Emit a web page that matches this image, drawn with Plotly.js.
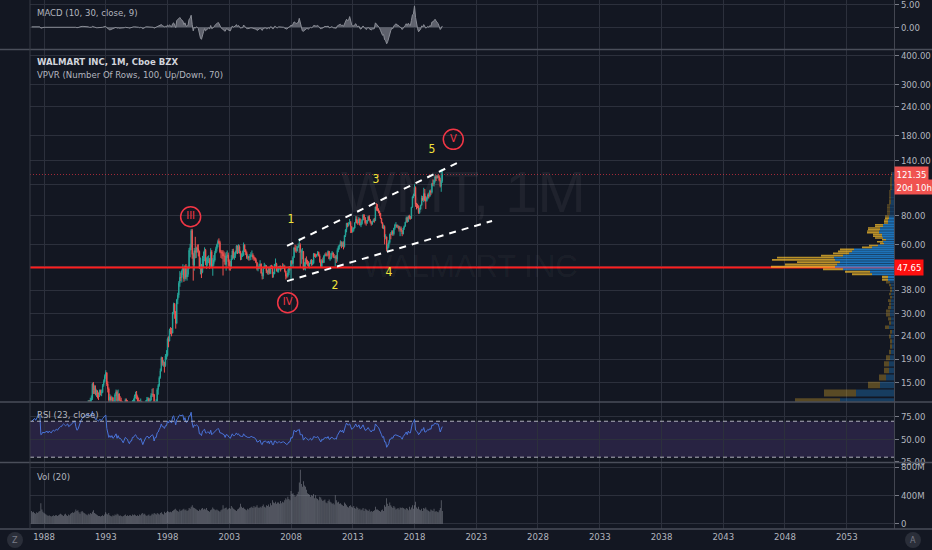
<!DOCTYPE html>
<html><head><meta charset="utf-8">
<script src="https://cdn.plot.ly/plotly-3.0.1.min.js"></script>
<style>html,body{margin:0;padding:0;background:#131722;}#chart{width:932px;height:550px;}</style>
</head><body><div id="chart"></div>
<script>
// ---------- DATA (monthly, starting Jan 1987) ----------
const startYear = 1987;
const firstOpen = 3.0;
const closes = [
3.2,3.4,3.6,3.7,3.6,3.8,4.0,4.1,3.9,3.0,3.2,3.4,
3.5,3.6,3.6,3.7,3.5,3.8,3.7,3.6,3.8,3.9,3.8,3.9,
4.1,4.0,4.2,4.5,4.8,5.0,5.3,5.5,5.4,5.3,5.5,5.6,
5.3,5.5,5.8,6.2,6.6,7.2,7.4,6.8,6.2,6.3,7.0,7.6,
8.3,9.0,9.6,10.4,10.6,11.5,11.8,12.3,12.0,12.6,12.8,14.8,
13.9,14.2,13.4,13.6,13.3,13.2,13.8,13.5,13.6,14.6,15.2,16.0,
16.6,14.8,14.1,12.6,13.0,12.6,12.9,12.2,12.3,13.3,13.7,12.5,
13.4,12.6,12.5,12.4,11.6,11.2,11.8,12.6,12.4,12.1,11.3,10.6,
11.4,11.3,12.4,12.4,13.1,13.4,13.0,12.4,12.4,11.7,12.4,11.2,
10.1,10.7,11.7,12.4,12.6,12.8,12.2,12.6,13.2,13.4,13.3,11.4,
12.3,12.4,14.0,14.6,15.8,16.9,19.3,18.3,18.4,17.8,19.6,19.7,
23.3,22.8,25.4,25.3,24.7,30.4,33.0,30.5,27.3,34.5,36.1,40.7,
43.2,43.1,46.1,47.4,42.6,48.3,43.3,44.5,47.6,56.7,58.4,69.1,
54.3,48.9,56.5,55.4,58.1,57.6,56.1,47.3,48.1,45.4,52.3,53.1,
56.8,50.0,50.5,51.7,51.7,48.8,55.9,48.0,49.5,51.4,55.2,57.6,
60.0,62.0,61.3,55.8,55.6,55.0,53.5,53.5,49.2,53.6,54.0,50.5,
48.6,48.0,52.0,56.3,52.6,53.7,55.8,59.2,55.8,58.9,56.0,53.1,
53.8,53.9,59.7,57.0,55.5,52.8,53.0,52.7,53.2,53.9,54.0,52.8,
52.4,51.6,50.1,47.1,47.2,48.2,49.4,45.0,43.8,47.3,48.6,48.6,
46.1,45.4,47.2,45.0,48.5,48.4,44.6,44.7,49.3,49.3,46.1,46.2,
47.7,48.3,47.0,47.9,47.6,48.1,46.0,43.7,43.7,45.2,47.9,47.5,
50.9,49.6,52.7,58.0,57.5,56.2,58.6,59.2,59.9,55.8,55.9,56.1,
47.1,49.2,52.1,50.4,49.7,48.4,49.9,50.9,49.1,49.7,54.6,53.5,
53.4,54.1,55.6,53.6,50.6,48.1,51.2,50.1,53.5,54.2,54.1,53.9,
56.1,52.0,52.1,55.0,55.2,53.1,52.7,53.2,51.9,56.7,58.9,59.8,
61.4,59.1,61.2,58.9,65.8,69.7,74.4,72.6,73.8,75.0,72.0,68.2,
69.9,70.8,74.8,77.7,74.8,74.5,77.9,73.0,74.0,76.8,81.0,78.7,
74.7,74.7,76.4,79.5,76.8,75.1,73.6,75.5,76.5,76.3,87.6,85.9,
85.0,83.9,82.3,78.1,74.7,70.9,72.0,64.7,64.8,57.2,58.8,61.3,
66.4,66.3,68.5,66.9,70.8,73.0,73.0,71.4,72.1,70.0,70.4,69.1,
66.7,70.9,72.1,75.2,78.6,75.7,80.0,78.1,78.1,87.3,97.1,98.8,
106.6,90.0,89.0,88.5,82.5,85.7,89.2,95.9,93.9,100.3,93.7,93.2,
95.7,99.0,97.5,102.8,101.5,110.5,110.4,114.3,118.7,117.3,119.1,118.8,
114.5,107.7,113.6,121.35];
const highs = [
3.3,3.5,3.7,3.8,3.8,3.9,4.1,4.3,4.2,4.0,3.4,3.5,
3.6,3.7,3.8,3.8,3.8,3.9,3.9,3.8,3.9,4.0,4.0,4.0,
4.2,4.2,4.3,4.6,4.9,5.1,5.4,5.6,5.6,5.5,5.6,5.7,
5.7,5.6,5.9,6.3,6.8,7.3,7.7,7.5,6.9,6.6,7.1,7.8,
8.5,9.3,9.8,10.6,11.0,11.7,12.2,12.6,12.6,12.9,13.2,15.0,
15.1,14.6,14.6,14.0,13.9,13.6,14.0,14.0,14.0,14.8,15.5,16.3,
17.0,16.6,15.2,14.3,13.4,13.2,13.1,13.0,12.6,13.5,14.0,13.9,
14.0,13.5,13.1,12.9,12.5,11.8,12.0,12.8,12.8,12.6,12.2,11.4,
11.7,11.8,12.6,12.8,13.3,13.7,13.8,13.2,12.9,12.6,12.8,12.5,
11.5,11.0,11.8,12.6,13.0,13.0,12.9,12.8,13.5,14.1,14.2,13.4,
12.5,12.7,14.2,14.8,16.0,17.3,19.5,19.4,18.8,18.5,20.0,20.8,
23.6,23.9,25.8,26.2,26.0,30.5,33.5,33.4,30.8,34.8,37.0,41.6,
46.0,45.3,46.8,49.3,48.0,48.8,49.4,46.8,48.6,58.0,60.5,70.2,
70.3,55.3,58.0,64.9,58.8,60.1,60.2,56.5,52.7,49.4,53.6,56.0,
58.4,57.5,52.8,53.4,53.9,52.5,57.9,56.8,52.4,54.0,56.4,58.8,
60.6,63.1,63.9,62.4,56.9,56.7,56.7,56.0,55.0,55.7,56.6,55.4,
51.7,51.0,54.0,57.4,57.6,55.5,56.5,59.8,59.5,60.2,59.6,56.4,
55.0,56.5,61.3,60.2,57.3,56.1,54.5,53.6,54.6,55.6,56.6,55.0,
53.8,52.9,52.3,50.2,48.6,49.6,51.3,49.7,45.4,48.0,50.0,49.2,
48.9,46.4,47.6,47.5,48.7,49.0,48.5,45.7,49.4,52.2,50.0,47.5,
48.4,48.5,48.6,48.4,49.8,49.3,48.8,46.2,45.0,46.9,48.1,48.4,
51.4,51.4,53.5,58.7,59.9,59.5,59.2,60.7,63.8,60.8,57.2,58.0,
56.2,50.3,52.5,53.3,51.5,50.8,50.0,51.6,51.9,51.5,55.2,55.0,
54.8,54.6,56.3,55.9,54.4,51.7,51.9,52.7,54.1,55.0,55.6,55.0,
56.6,56.3,53.0,55.3,56.3,55.5,54.6,53.9,54.1,57.8,59.4,60.0,
62.6,62.0,61.9,62.0,65.9,70.0,74.6,74.7,75.2,77.6,76.0,72.1,
71.3,71.4,75.0,79.9,79.7,76.8,79.3,77.8,75.5,77.7,81.4,81.2,
79.0,76.8,76.8,80.0,80.7,77.6,76.0,76.3,77.8,78.5,88.0,90.9,
90.1,86.4,84.3,82.5,78.2,75.2,73.4,72.8,66.6,65.1,60.6,62.7,
67.1,68.0,69.3,69.4,71.0,74.0,75.2,73.5,73.2,72.5,72.0,72.0,
69.4,71.1,72.7,75.5,79.6,79.3,80.3,81.0,80.0,87.7,97.3,100.1,
109.98,107.6,91.3,90.5,89.0,86.9,89.5,98.2,97.8,106.2,104.9,97.7,
96.9,100.3,101.2,104.0,104.4,111.6,115.5,115.2,120.2,120.6,120.5,121.5,
120.5,117.5,128.1,126.5];
const lows = [
2.9,3.1,3.3,3.5,3.5,3.5,3.7,3.9,3.8,2.7,2.9,3.1,
3.3,3.4,3.5,3.5,3.4,3.5,3.6,3.5,3.5,3.7,3.7,3.7,
3.8,3.9,3.9,4.1,4.4,4.7,4.9,5.2,5.2,5.0,5.2,5.3,
5.0,5.1,5.4,5.7,6.1,6.5,7.0,6.4,5.9,5.8,6.2,6.9,
7.3,8.1,8.8,9.4,10.1,10.5,11.2,11.5,11.6,11.8,12.2,12.6,
13.4,13.4,13.2,13.0,12.8,12.6,13.0,13.2,13.1,13.5,14.4,15.0,
15.6,14.5,13.6,12.3,12.3,12.3,12.4,12.0,11.8,12.1,13.1,12.3,
12.3,12.5,12.3,12.0,11.4,10.9,11.0,11.6,12.0,11.8,11.1,10.4,
10.4,10.8,11.2,11.9,12.2,12.8,12.7,12.2,12.1,11.5,11.5,11.0,
9.7,10.0,10.6,11.4,12.1,12.2,11.6,11.8,12.5,13.0,13.0,11.3,
11.2,11.7,12.2,13.3,14.4,15.6,16.8,17.8,17.6,16.6,17.6,18.9,
19.5,21.4,22.7,24.4,23.9,24.6,29.8,28.5,25.8,27.0,33.0,35.2,
39.3,41.6,41.0,44.2,41.3,41.7,42.4,41.8,43.4,46.9,52.8,56.8,
52.1,41.8,46.2,52.3,52.5,55.4,53.3,47.1,44.5,42.9,45.0,47.8,
50.8,48.8,47.0,48.5,49.8,47.0,47.8,47.3,43.9,48.5,50.6,55.1,
56.0,58.4,60.5,55.0,52.5,52.0,44.0,50.5,48.8,46.2,52.5,48.2,
46.3,46.2,47.1,51.5,52.2,51.5,52.5,54.8,54.6,55.0,54.8,51.3,
51.5,53.0,53.6,55.7,54.0,52.0,51.6,51.1,51.2,51.4,53.0,51.6,
51.0,51.0,49.8,46.3,45.9,46.9,48.1,44.9,42.3,42.5,47.2,47.5,
45.1,44.5,44.3,44.5,44.6,47.0,43.0,43.1,44.6,48.1,45.8,45.4,
45.3,46.7,45.8,46.7,47.1,47.0,45.4,42.3,42.8,43.2,44.2,46.3,
42.1,49.1,47.8,52.6,55.8,55.2,56.3,58.0,55.2,47.5,49.5,51.8,
46.4,46.7,46.3,49.2,48.5,47.8,47.3,49.4,48.5,48.8,49.6,53.0,
52.5,53.0,54.0,53.3,50.0,47.8,47.8,49.8,49.9,53.2,53.8,53.2,
53.8,51.8,51.0,51.8,54.0,52.5,52.3,48.3,49.9,50.6,55.6,57.1,
58.9,57.9,58.7,57.2,58.3,64.8,67.9,71.4,72.0,73.6,67.4,67.4,
67.8,68.5,70.6,74.6,74.1,73.1,74.5,72.7,71.5,73.4,76.5,77.0,
73.5,72.6,73.8,75.9,76.4,74.3,72.6,73.4,75.7,74.8,76.0,84.3,
83.9,82.2,80.0,77.7,74.2,70.6,70.1,60.2,63.3,56.3,56.3,58.0,
60.5,63.3,66.0,65.5,65.8,69.7,72.2,71.0,70.6,68.4,65.3,68.1,
65.3,66.9,69.6,71.9,75.0,74.8,75.6,77.3,77.1,77.7,86.9,95.7,
97.6,87.7,85.5,86.5,81.8,81.8,85.2,88.8,92.9,91.9,92.9,85.8,
92.4,94.5,95.5,97.0,98.6,100.2,108.0,107.6,112.0,113.6,116.5,117.1,
113.3,106.5,102.0,111.6];
const volumesM = [
180,160,170,150,140,160,150,170,180,290,200,170,
150,140,130,120,110,120,110,100,110,120,110,120,
120,110,120,130,140,130,120,110,130,140,120,110,
130,120,140,150,160,150,170,200,180,190,160,140,
170,180,160,150,140,130,120,140,130,150,140,170,
190,150,140,130,120,110,110,100,110,120,110,130,
160,140,130,150,120,110,100,120,110,130,120,140,
130,110,120,110,100,110,120,130,110,120,110,120,
120,110,130,120,130,120,110,120,110,130,120,140,
150,130,140,120,110,120,130,110,120,140,130,150,
140,130,150,140,130,150,160,140,130,170,150,160,
180,170,160,170,160,180,190,200,210,190,180,170,
200,180,190,200,210,190,200,180,190,220,210,240,
260,230,220,210,200,190,180,200,190,210,220,200,
210,200,220,190,180,170,190,200,230,210,200,190,
200,190,180,170,190,200,260,210,220,230,200,210,
220,210,250,230,210,200,190,180,200,210,230,280,
240,220,230,210,200,190,210,200,220,230,240,220,
250,230,240,260,230,220,240,230,250,270,240,230,
260,250,270,240,290,260,330,300,290,310,280,300,
300,280,320,290,310,300,330,360,340,380,350,330,
460,420,430,400,380,390,420,450,580,760,560,520,
600,540,520,480,430,420,410,380,400,390,420,360,
400,360,350,330,380,370,340,320,330,340,300,290,
320,340,310,300,280,290,270,400,330,300,310,280,
290,270,260,250,300,280,260,240,230,250,260,240,
230,250,220,210,240,220,200,210,190,200,220,180,
210,200,190,180,200,170,180,170,180,190,240,200,
200,190,180,170,190,200,180,260,240,360,280,250,
300,260,240,220,250,230,200,210,220,200,230,220,
230,220,210,200,220,210,190,240,200,230,260,210,
260,310,230,210,240,200,190,210,180,220,210,230,
200,190,180,170,200,190,180,210,170,180,170,160,
190,220,330,180];
const rsiValues = [
70,71,72,73,71,73,75,78,76,55,56,58,
57,58,58,59,57,59,58,57,59,60,59,60,
61,60,62,63,64,64,66,67,66,65,66,67,
64,65,66,67,68,70,70,64,60,61,65,68,
71,73,74,76,75,77,77,78,76,77,76,81,
76,75,72,72,71,70,72,71,71,73,74,76,
77,62,58,52,54,52,54,51,52,55,56,51,
54,51,51,50,47,46,49,52,51,50,47,45,
48,48,52,52,54,55,53,51,51,49,51,47,
44,47,50,52,53,53,51,52,54,55,54,48,
52,52,57,58,61,63,67,64,64,62,65,65,
70,68,71,70,68,75,76,71,66,72,73,76,
77,76,77,77,71,74,69,69,71,76,76,80,
68,63,66,65,66,65,64,56,56,54,59,60,
61,57,57,58,58,56,60,55,56,57,59,60,
61,62,61,57,57,56,55,55,52,55,55,53,
52,51,54,56,54,54,55,57,55,56,54,53,
53,53,56,54,53,52,52,52,52,53,53,52,
52,51,50,47,47,48,49,45,44,47,48,48,
47,46,48,45,48,48,44,44,48,48,46,46,
47,47,46,47,47,47,46,44,44,45,47,47,
52,51,54,60,59,58,60,60,61,55,55,55,
49,50,52,51,50,49,50,51,49,50,53,52,
52,52,53,51,49,47,50,49,51,52,52,51,
53,50,50,52,52,51,50,51,50,54,56,57,
60,58,60,57,62,65,68,66,66,67,64,61,
62,63,65,67,64,64,66,62,62,64,66,63,
60,60,61,63,61,59,58,60,60,60,67,65,
64,63,61,58,55,52,53,47,47,41,43,45,
50,50,52,51,54,55,55,54,54,53,53,52,
50,53,54,56,58,55,59,57,57,63,68,69,
72,60,59,58,55,56,58,61,60,63,58,58,
59,61,60,62,61,66,65,67,68,67,67,67,
63,58,61,64];
const macdValues = [
0.1,0.1,0.1,0.1,0.1,0.1,0.1,0.2,0.1,-0.2,-0.1,0.0,
0,0,0,0,0,0,0,0,0,0,0,0,
0,0,0,0.1,0.1,0.1,0.1,0.1,0,0,0,0,
0,0,0.1,0.1,0.1,0.1,0.1,0,-0.1,-0.1,0,0.1,
0.2,0.2,0.2,0.2,0.1,0.1,0.1,0.1,0,0,0,0.2,
0.1,0,-0.1,-0.1,-0.1,-0.1,0,0,0,0,0.1,0.2,
0.2,-0.1,-0.3,-0.6,-0.6,-0.5,-0.4,-0.4,-0.3,-0.1,0,-0.2,
-0.1,-0.2,-0.2,-0.1,-0.2,-0.2,-0.1,0,0,0,-0.1,-0.2,
-0.1,0,0.1,0.1,0.1,0.1,0,0,0,-0.1,0,-0.1,
-0.3,-0.2,0,0.1,0.1,0.1,0,0,0.1,0.1,0,-0.2,
-0.1,0,0.2,0.3,0.4,0.4,0.6,0.4,0.3,0.1,0.2,0.1,
0.5,0.3,0.5,0.3,0.1,0.8,1.0,0.5,-0.1,1.5,1.8,2.0,
2.2,1.8,1.6,1.4,0.6,1.0,0.3,0.2,0.5,1.8,2.0,2.7,
0.6,-0.8,0,-0.2,0.1,0,-0.3,-1.8,-2.4,-2.7,-1.5,-1.0,
-0.3,-0.8,-0.6,-0.3,-0.1,-0.4,0.4,-0.3,-0.2,0,0.4,0.7,
1.0,1.1,0.9,0.1,-0.1,-0.3,-0.5,-0.5,-0.9,-0.4,-0.3,-0.6,
-0.8,-0.8,-0.3,0.3,0,0.1,0.3,0.6,0.2,0.4,0.1,-0.2,
-0.1,-0.1,0.5,0.2,0,-0.3,-0.3,-0.3,-0.2,-0.1,-0.1,-0.2,
-0.3,-0.3,-0.4,-0.7,-0.6,-0.4,-0.2,-0.6,-0.7,-0.3,-0.1,-0.1,
-0.3,-0.3,-0.1,-0.3,0.1,0.1,-0.3,-0.3,0.2,0.2,-0.1,-0.1,
0.1,0.1,0,0,0,0,-0.2,-0.4,-0.4,-0.2,0.1,0.1,
0.5,0.3,0.6,1.2,1.1,0.8,1.0,1.0,2.0,0.8,-0.4,-0.8,
-0.9,-0.7,-0.3,-0.3,-0.3,-0.4,-0.2,0,-0.1,0,0.4,0.3,
0.3,0.3,0.4,0.2,-0.1,-0.4,-0.1,-0.2,0.1,0.2,0.2,0.1,
0.3,-0.1,-0.1,0.1,0.1,-0.1,-0.1,-0.1,-0.2,0.3,0.5,0.6,
0.7,0.4,0.5,0.2,0.8,1.3,1.8,1.5,1.6,2.4,1.2,0.5,
0.3,0.3,0.6,0.8,0.3,0.1,0.3,-0.3,-0.4,-0.1,0.3,0,
-0.4,-0.5,-0.3,0,-0.3,-0.5,-0.6,-0.4,-0.3,-0.3,1.0,0.7,
0.5,0.2,-0.1,-0.7,-1.2,-1.8,-1.6,-2.8,-3.0,-3.7,-3.2,-2.3,
-1.0,-0.7,-0.2,-0.3,0.3,0.7,0.8,0.5,0.5,0.2,0.1,-0.1,
-0.5,0,0.1,0.4,0.8,0.4,0.9,0.5,0.4,1.5,2.8,3.0,
4.8,2.2,0.6,-0.3,-1.0,-0.8,-0.4,0.3,0.1,0.6,0,-0.2,
0,0.2,0,0.4,0.2,1.2,1.2,1.5,1.8,1.4,1.2,0.8,
0.2,-0.5,-0.2,0.3];
// Volume profile (VPVR): 100 price rows
const vpStart = 11.9, vpStep = 1.15;
const vpUp = [54,38,14,8,5,5,4,3,2,2, 3,2,5,3,3,4,4,3,3,3, 2,3,2,2,3,4,6,6,22,24,
 51,59,57,54,59,60,51,45,42,40, 22,16,10,11,8,11,12,12,15,15, 14,14,11,11,6,6,6,5,5,5,
 4,4,4,4,4,4,4,4,3,3, 3,3,3,3,3,3,3,3,3,3, 2,2,2,2,2,2,2,2,2,2, 2,2,2,2,2,2,2,2,2,2];
const vpDown = [45,32,12,7,5,5,4,2,2,2, 2,2,4,2,3,4,4,3,2,3, 2,2,2,2,2,4,6,6,20,25,
 20,64,52,43,63,57,22,16,14,14, 10,9,4,6,4,8,9,9,12,12, 12,12,8,8,4,4,4,4,4,4,
 3,3,3,3,3,3,3,3,2,2, 2,2,2,2,2,2,2,2,2,2, 2,2,2,2,2,2,2,2,2,2, 2,2,2,1,1,1,1,1,1,1];
const vaLow = 42, vaHigh = 80;
// Axis ticks
const yearTicks = [1988,1993,1998,2003,2008,2013,2018,2023,2028,2033,2038,2043,2048,2053];
const priceTicks = [15,19,24,30,38,48,60,80,110,140,180,240,300,400];
const hiddenPriceTicks = [48,110];
// Drawings
const levelSupport = 47.65, levelLast = 121.35;
const upperChannelDates = ['2007-09-06','2021-06-10'], upperChannelPrices = [59.2,136.2];
const lowerChannelDates = ['2007-09-06','2024-04-12'], lowerChannelPrices = [41.6,76.1];
const waveText = ['1','2','3','4','5'];
const waveDates = ['2008-01-01','2011-07-22','2014-11-17','2015-12-06','2019-06-03'];
const wavePrices = [76.7,39.7,114.8,45.1,155.1];
const degText = ['III','IV','V'];
const degDates = ['1999-11-16','2007-09-25','2021-02-21'];
const degPrices = [79.4,33.5,172.7];

// ---------- BUILD ----------
const dates = closes.map((_, i) => {
  const d = new Date(Date.UTC(startYear, i, 1));
  return d.toISOString().slice(0, 10);
});
const opens = closes.map((c, i) => i === 0 ? firstOpen : closes[i - 1]);
const xStart = '1986-11-13', xEnd = '2056-10-29';
const H = 529; const py = p => (H - p) / H;
const FONT = '"Liberation Sans Narrow","DejaVu Sans Condensed","Liberation Sans",sans-serif';
const TXT = '#b2b5be', GRID = '#2c303c';

function vpPolys(which, inVA) {
  const xs = [], ys = [];
  vpUp.forEach((u, i) => {
    const lo = vpStart + i * vpStep, hi = lo + vpStep * 0.82, mid = lo + vpStep / 2;
    const va = mid >= vaLow && mid <= vaHigh;
    if (va !== inVA) return;
    const a = which === 'up' ? 0 : u, b = which === 'up' ? u : u + vpDown[i];
    xs.push(a, b, b, a, a, null); ys.push(lo, lo, hi, hi, lo, null);
  });
  return {xs, ys};
}
const vpTraces = [['up', true, 'rgba(33,150,243,0.72)'], ['down', true, 'rgba(251,192,45,0.72)'],
                  ['up', false, 'rgba(33,150,243,0.3)'], ['down', false, 'rgba(251,192,45,0.3)']]
  .map(([w, va, col]) => { const p = vpPolys(w, va);
    return {type: 'scatter', mode: 'lines', x: p.xs, y: p.ys, xaxis: 'x2', yaxis: 'y2',
      fill: 'toself', fillcolor: col, line: {width: 0, color: col}, hoverinfo: 'skip'}; });

const traces = [
  {type: 'scatter', mode: 'lines', x: dates, y: macdValues, xaxis: 'x', yaxis: 'y',
   fill: 'tozeroy', fillcolor: 'rgba(120,123,134,0.75)', line: {color: '#8a8d96', width: 1}},
  ...vpTraces,
  {type: 'candlestick', x: dates, open: opens, high: highs, low: lows, close: closes,
   xaxis: 'x', yaxis: 'y2', whiskerwidth: 0,
   increasing: {line: {color: '#26a69a', width: 1}, fillcolor: '#26a69a'},
   decreasing: {line: {color: '#ef5350', width: 1}, fillcolor: '#ef5350'}},
  {type: 'scatter', mode: 'lines', x: [xStart, xEnd], y: [levelSupport, levelSupport], xaxis: 'x', yaxis: 'y2',
   line: {color: '#ff1e1e', width: 2}},
  {type: 'scatter', mode: 'lines', x: [xStart, xEnd], y: [levelLast, levelLast], xaxis: 'x', yaxis: 'y2',
   line: {color: 'rgba(242,54,69,0.65)', width: 1, dash: '1px,2px'}},
  {type: 'scatter', mode: 'lines', x: upperChannelDates, y: upperChannelPrices, xaxis: 'x', yaxis: 'y2',
   line: {color: '#ffffff', width: 2, dash: '7px,6px'}},
  {type: 'scatter', mode: 'lines', x: lowerChannelDates, y: lowerChannelPrices, xaxis: 'x', yaxis: 'y2',
   line: {color: '#ffffff', width: 2, dash: '7px,6px'}},
  {type: 'scatter', mode: 'text', x: waveDates, y: wavePrices, text: waveText, xaxis: 'x', yaxis: 'y2',
   textposition: 'middle center', textfont: {color: '#f2e33a', size: 12, family: FONT}},
  {type: 'scatter', mode: 'markers+text', x: degDates, y: degPrices, text: degText, xaxis: 'x', yaxis: 'y2',
   textposition: 'middle center', textfont: {color: '#f23645', size: 11, family: FONT},
   marker: {symbol: 'circle-open', size: 20, color: '#f23645', line: {width: 1.5, color: '#f23645'}}},
  {type: 'scatter', mode: 'lines', x: dates, y: rsiValues, xaxis: 'x', yaxis: 'y3',
   line: {color: '#4a74d8', width: 1}},
  {type: 'bar', x: dates, y: volumesM, xaxis: 'x', yaxis: 'y4',
   marker: {color: 'rgba(178,181,190,0.6)', line: {width: 0}}}
];

const axY = (extra) => Object.assign({side: 'right', anchor: 'x', showgrid: true, gridcolor: GRID,
  zeroline: false, ticks: 'outside', ticklen: 4, tickcolor: '#787b86', showline: true,
  linecolor: '#434651', tickfont: {size: 9.5, color: TXT, family: FONT}, fixedrange: true,
  ticklabeloverflow: 'allow'}, extra);

const sep = p => ({type: 'line', xref: 'paper', yref: 'paper', x0: -30/864, x1: 1 + 38/864, y0: py(p), y1: py(p),
  line: {color: '#4a4e5a', width: 1.5}, layer: 'above'});

const layout = {
  width: 932, height: 550, margin: {l: 30, r: 38, t: 0, b: 21},
  paper_bgcolor: '#131722', plot_bgcolor: '#131722', showlegend: false, bargap: 0.3,
  font: {family: FONT, color: TXT, size: 9.5},
  xaxis: {type: 'date', range: [xStart, xEnd], anchor: 'y4', showgrid: true, gridcolor: GRID,
    tickvals: yearTicks.map(y => y + '-01-01'), ticktext: yearTicks.map(String), ticks: '',
    tickfont: {size: 9.5, color: TXT, family: FONT}, zeroline: false, rangeslider: {visible: false},
    fixedrange: true},
  xaxis2: {overlaying: 'x', anchor: 'y2', range: [864, 0], visible: false, fixedrange: true},
  yaxis: axY({domain: [py(49.5), 1], range: [-4.98, 6.12], tickvals: [0, 5], ticktext: ['0.00', '5.00']}),
  yaxis2: axY({domain: [py(402), py(49.5)], type: 'log', range: [1.0919, 2.6291], tickvals: priceTicks,
    ticktext: priceTicks.map(v => hiddenPriceTicks.includes(v) ? '' : v.toFixed(2))}),
  yaxis3: axY({domain: [py(462.5), py(402)], range: [24.1, 91.4], tickvals: [25, 50, 75],
    ticktext: ['25.00', '50.00', '75.00']}),
  yaxis4: axY({domain: [0, py(462.5)], range: [-74.8, 863.5], tickvals: [0, 400, 800],
    ticktext: ['0', '400M', '800M']}),
  shapes: [
    {type: 'rect', xref: 'paper', yref: 'y3', x0: 0, x1: 1, y0: 30, y1: 70,
     fillcolor: 'rgba(126,87,194,0.2)', line: {width: 0}, layer: 'below'},
    {type: 'line', xref: 'paper', yref: 'y3', x0: 0, x1: 1, y0: 70, y1: 70,
     line: {color: 'rgba(200,202,210,0.85)', width: 1, dash: '4px,3px'}},
    {type: 'line', xref: 'paper', yref: 'y3', x0: 0, x1: 1, y0: 30, y1: 30,
     line: {color: 'rgba(200,202,210,0.85)', width: 1, dash: '4px,3px'}},
    sep(49.5), sep(402), sep(462.5), sep(529),
    {type: 'line', xref: 'paper', yref: 'paper', x0: 0, x1: 0, y0: 0, y1: 1,
     line: {color: '#363a45', width: 1}},
    {type: 'circle', xref: 'paper', yref: 'paper', x0: (7-30)/864, x1: (23-30)/864, y0: py(548), y1: py(532),
     fillcolor: '#2a2e39', line: {width: 0}},
    {type: 'circle', xref: 'paper', yref: 'paper', x0: (905-30)/864, x1: (921-30)/864, y0: py(548), y1: py(532),
     fillcolor: '#2a2e39', line: {width: 0}}
  ],
  annotations: [
    {text: 'MACD (10, 30, close, 9)', xref: 'paper', yref: 'paper', x: 0, y: py(12.5), xanchor: 'left',
     yanchor: 'middle', xshift: 5, showarrow: false, font: {size: 9.5, color: TXT}},
    {text: '<b>WALMART INC, 1M, Cboe BZX</b>', xref: 'paper', yref: 'paper', x: 0, y: py(61.5), xanchor: 'left',
     yanchor: 'middle', xshift: 5, showarrow: false, font: {size: 9.5, color: '#d1d4dc'}},
    {text: 'VPVR (Number Of Rows, 100, Up/Down, 70)', xref: 'paper', yref: 'paper', x: 0, y: py(74), xanchor: 'left',
     yanchor: 'middle', xshift: 5, showarrow: false, font: {size: 9.5, color: TXT}},
    {text: 'RSI (23, close)', xref: 'paper', yref: 'paper', x: 0, y: py(415), xanchor: 'left',
     yanchor: 'middle', xshift: 5, showarrow: false, font: {size: 9.5, color: TXT}},
    {text: 'Vol (20)', xref: 'paper', yref: 'paper', x: 0, y: py(476), xanchor: 'left',
     yanchor: 'middle', xshift: 5, showarrow: false, font: {size: 9.5, color: TXT}},
    {text: 'WMT, 1M', xref: 'paper', yref: 'paper', x: (463-30)/864, y: py(191), xanchor: 'center',
     yanchor: 'middle', showarrow: false, font: {size: 58, color: 'rgba(255,255,255,0.05)', family: 'Liberation Sans'}},
    {text: 'WALMART INC', xref: 'paper', yref: 'paper', x: (470-30)/864, y: py(267), xanchor: 'center',
     yanchor: 'middle', showarrow: false, font: {size: 31, color: 'rgba(255,255,255,0.05)', family: 'Liberation Sans'}},
    {text: levelLast.toFixed(2), xref: 'paper', yref: 'y2', x: 1, y: Math.log10(levelLast), xanchor: 'left',
     yanchor: 'middle', showarrow: false, bgcolor: '#f05350', borderpad: 1.5,
     font: {size: 9.5, color: '#ffffff'}},
    {text: '20d 10h', xref: 'paper', yref: 'y2', x: 1, y: Math.log10(levelLast), yshift: -13, xanchor: 'left',
     yanchor: 'middle', showarrow: false, bgcolor: '#f05350', borderpad: 1.5,
     font: {size: 9.5, color: '#ffffff'}},
    {text: levelSupport.toFixed(2), xref: 'paper', yref: 'y2', x: 1, y: Math.log10(levelSupport), xanchor: 'left',
     yanchor: 'middle', showarrow: false, bgcolor: '#ff1010', borderpad: 2,
     font: {size: 9.5, color: '#ffffff'}},
    {text: 'Z', xref: 'paper', yref: 'paper', x: (15-30)/864, y: py(540), xanchor: 'center', yanchor: 'middle',
     showarrow: false, font: {size: 9, color: '#787b86'}},
    {text: 'A', xref: 'paper', yref: 'paper', x: (913-30)/864, y: py(540), xanchor: 'center', yanchor: 'middle',
     showarrow: false, font: {size: 9, color: '#787b86'}}
  ]
};

Plotly.newPlot('chart', traces, layout, {displayModeBar: false, staticPlot: true});
</script></body></html>
